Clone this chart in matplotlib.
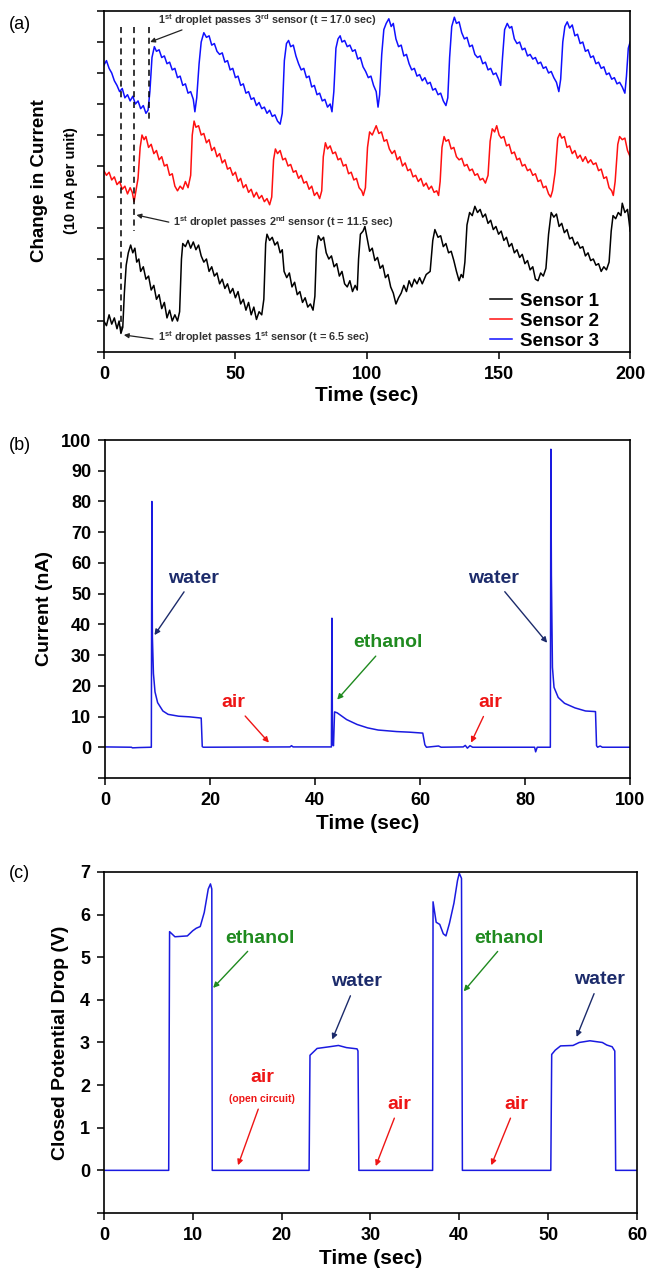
import numpy as np
import matplotlib
matplotlib.use("Agg")
import matplotlib.pyplot as plt

plt.rcParams['font.family'] = ['Liberation Sans', 'DejaVu Sans']
plt.rcParams['font.weight'] = 'bold'
plt.rcParams['mathtext.default'] = 'regular'

# ---- panel (a): change in current, three sensors (t sec, value in units of 10 nA)
sensor1 = [[0, 1.0], [1, 0.85], [2, 1.2], [3, 0.9], [4, 1.1], [5, 0.75], [5.8, 1.0], [6.5, 0.6], [7.2, 0.8],
           [7.8, 1.9], [8.5, 2.8], [9.3, 3.2], [10.2, 3.45], [11, 3.2], [11.8, 3.35], [12.5, 2.9], [13.3, 3.0],
           [14, 2.6], [15, 2.75], [16, 2.35], [17, 2.45], [18, 2.0], [19, 2.15], [20, 1.7], [21, 1.85], [22, 1.4],
           [23, 1.6], [24, 1.1], [25, 1.35], [26, 1.0], [27, 1.2], [28, 1.0], [28.8, 1.3], [29.5, 3.0], [30, 3.5],
           [31, 3.4], [32, 3.6], [33, 3.35], [34, 3.55], [35, 3.3], [36, 3.45], [37, 3.1], [38, 2.9], [39, 3.0],
           [40, 2.6], [41, 2.75], [42, 2.45], [43, 2.55], [44, 2.2], [45, 2.35], [46, 2.05], [47, 2.2], [48, 1.9],
           [49, 2.05], [50, 1.75], [51, 1.95], [52, 1.55], [53, 1.7], [54, 1.35], [55, 1.6], [56, 1.2], [57, 1.45],
           [58, 1.05], [59, 1.3], [60, 1.2], [60.8, 1.7], [61.5, 3.5], [62, 3.8], [63, 3.6], [64, 3.7], [65, 3.45],
           [66, 3.55], [67, 3.2], [67.8, 3.3], [68.5, 2.6], [69.5, 2.4], [70.5, 2.55], [71.5, 2.1], [72.5, 2.25],
           [73.5, 1.85], [74.5, 1.95], [75.5, 1.6], [76.5, 1.75], [77.5, 1.45], [78.5, 1.55], [79.5, 1.35],
           [80.2, 1.8], [80.8, 3.3], [81.5, 3.75], [82.5, 3.6], [83.5, 3.7], [84.5, 3.2], [85.5, 3.0], [86.5, 3.1],
           [87.5, 2.75], [88.5, 2.85], [89.5, 2.45], [90.5, 2.6], [91.5, 2.2], [92.5, 2.1], [93.5, 2.3],
           [94.5, 1.95], [95.5, 2.15], [96.3, 2.0], [96.8, 3.0], [97.5, 3.8], [98.5, 3.9], [99.2, 4.05], [100, 3.7],
           [101, 3.25], [102, 3.35], [103, 2.95], [104, 3.05], [105, 2.7], [106, 2.8], [107, 2.4], [108, 2.5],
           [109, 2.1], [110, 1.9], [111, 1.55], [112, 1.75], [113, 1.9], [114, 2.15], [115, 1.95], [116, 2.3],
           [117, 2.1], [118, 2.35], [119, 2.2], [120, 2.4], [121, 2.2], [122.5, 2.5], [124, 2.6], [125, 3.6],
           [125.8, 3.95], [127, 3.7], [128, 3.75], [129, 3.4], [130, 3.5], [131, 3.2], [132, 3.25], [133, 2.95],
           [134, 2.6], [135, 2.3], [135.8, 2.5], [136.5, 2.4], [137.2, 2.9], [138, 4.1], [139, 4.5], [140, 4.4],
           [141, 4.7], [142, 4.5], [143, 4.6], [144, 4.35], [145, 4.45], [146, 4.15], [147, 4.25], [148, 3.95],
           [149, 4.05], [150, 3.8], [151, 3.9], [152, 3.6], [153, 3.7], [154, 3.4], [155, 3.5], [156, 3.2],
           [157, 3.3], [158, 3.05], [159, 3.15], [160, 2.85], [161, 2.95], [162, 2.65], [163, 2.75], [164, 2.35],
           [165, 2.3], [166, 2.55], [167, 2.45], [168, 2.7], [169, 3.8], [170, 4.5], [171, 4.35], [172, 4.45],
           [173, 4.05], [174, 4.15], [175, 3.85], [176, 3.95], [177, 3.65], [178, 3.7], [179, 3.45], [180, 3.55],
           [181, 3.35], [182, 3.4], [183, 3.1], [184, 3.2], [185, 2.95], [186, 3.0], [187, 2.8], [188, 2.85],
           [189, 2.6], [190, 2.75], [191, 2.65], [192, 2.9], [192.8, 3.9], [193.5, 4.4], [194.5, 4.3], [195.5, 4.5],
           [196.5, 4.4], [197, 4.8], [198, 4.5], [199, 4.6], [199.6, 4.2], [200, 3.9]]

sensor2 = [[0, 5.85], [1, 5.7], [2, 5.8], [3, 5.55], [4, 5.65], [5, 5.4], [6, 5.5], [7, 5.25], [8, 5.35], [9, 5.1],
           [10, 5.3], [10.8, 5.15], [11.5, 4.85], [12.2, 5.2], [13, 5.6], [13.8, 6.6], [14.5, 7.0], [15.3, 6.85],
           [16, 6.95], [17, 6.6], [18, 6.7], [19, 6.4], [20, 6.5], [21, 6.2], [22, 6.3], [23, 6.0], [24, 6.05],
           [25, 5.7], [26, 5.75], [27, 5.35], [28, 5.2], [29, 5.35], [30, 5.25], [31, 5.5], [32, 5.3], [33, 5.7],
           [33.6, 7.0], [34.3, 7.45], [35, 7.25], [36, 7.3], [37, 7.0], [38, 7.05], [39, 6.75], [40, 6.85],
           [41, 6.5], [42, 6.6], [43, 6.3], [44, 6.4], [45, 6.1], [46, 6.2], [47, 5.9], [48, 5.95], [49, 5.7],
           [50, 5.8], [51, 5.5], [52, 5.6], [53, 5.3], [54, 5.4], [55, 5.15], [56, 5.25], [57, 5.0], [58, 5.15],
           [59, 4.95], [60, 5.05], [61, 4.85], [62, 4.95], [63, 4.75], [63.8, 5.0], [64.5, 6.2], [65.2, 6.55],
           [66, 6.4], [67, 6.5], [68, 6.2], [69, 6.25], [70, 6.0], [71, 6.05], [72, 5.8], [73, 5.85], [74, 5.6],
           [75, 5.7], [76, 5.45], [77, 5.5], [78, 5.25], [79, 5.35], [80, 5.05], [81, 5.15], [82, 4.95],
           [82.8, 5.2], [83.4, 6.3], [84.2, 6.75], [85, 6.55], [86, 6.65], [87, 6.4], [88, 6.45], [89, 6.2],
           [90, 6.25], [91, 6.0], [92, 6.05], [93, 5.75], [94, 5.8], [95, 5.55], [96, 5.6], [97, 5.3], [98, 5.2],
           [98.6, 5.05], [99.4, 5.3], [100.2, 6.6], [101, 7.1], [102, 7.0], [103.5, 7.3], [104.5, 7.05],
           [105.5, 7.1], [106.5, 6.8], [107.5, 6.85], [108.5, 6.55], [109.5, 6.4], [110.5, 6.5], [111.5, 6.2],
           [112.5, 6.3], [113.5, 6.0], [114.5, 6.1], [115.5, 5.85], [116.5, 5.9], [117.5, 5.65], [118.5, 5.7],
           [119.5, 5.5], [120.5, 5.6], [121.5, 5.35], [122.5, 5.45], [123.5, 5.25], [124.5, 5.35], [125.5, 5.15],
           [126.5, 5.2], [127.2, 5.05], [127.8, 5.5], [128.5, 6.6], [129.3, 6.95], [130, 6.8], [131, 6.85],
           [132, 6.55], [133, 6.6], [134, 6.3], [135, 6.2], [136, 6.25], [137, 6.0], [138, 6.05], [139, 5.85],
           [140, 5.9], [141, 5.7], [142, 5.75], [143, 5.55], [144, 5.6], [145, 5.45], [146, 5.7], [146.8, 6.8],
           [147.6, 7.2], [148.5, 7.1], [149.3, 7.3], [150.2, 7.0], [151, 6.9], [152, 6.95], [153, 6.65],
           [154, 6.7], [155, 6.4], [156, 6.45], [157, 6.2], [158, 6.25], [159, 6.0], [160, 6.05], [161, 5.85],
           [162, 5.9], [163, 5.7], [164, 5.75], [165, 5.5], [166, 5.55], [167, 5.3], [168, 5.35], [169, 5.1],
           [169.8, 5.0], [170.5, 5.2], [171.5, 5.8], [172.5, 6.9], [173.3, 7.05], [174, 6.9], [175, 6.95],
           [176, 6.6], [177, 6.65], [178, 6.4], [179, 6.5], [180, 6.25], [181, 6.35], [182, 6.15], [183, 6.3],
           [184, 6.1], [185, 6.2], [186, 6.05], [187, 6.1], [188, 5.85], [189, 5.9], [190, 5.6], [191, 5.65],
           [192, 5.3], [193, 5.2], [193.6, 5.05], [194.3, 5.5], [195.3, 6.7], [196, 6.95], [197, 6.85],
           [198, 6.9], [199, 6.5], [200, 6.3]]

sensor3 = [[0, 9.25], [1, 9.4], [2, 9.15], [3, 9.0], [4, 8.75], [5, 8.6], [6, 8.4], [7, 8.5], [8, 8.2], [9, 8.3],
           [10, 8.1], [11, 8.25], [12, 8.0], [13, 8.1], [14, 7.85], [15, 7.95], [16, 7.7], [16.8, 7.8], [17.5, 8.4],
           [18.3, 9.5], [19.2, 9.85], [20, 9.7], [21, 9.75], [22, 9.5], [23, 9.55], [24, 9.3], [25, 9.35],
           [26, 9.1], [27, 9.15], [28, 8.85], [29, 8.9], [30, 8.6], [31, 8.65], [32, 8.35], [33, 8.4], [34, 8.15],
           [34.6, 7.75], [35.3, 8.2], [36.2, 9.3], [37, 10.0], [38, 10.3], [39, 10.15], [40, 10.2], [41, 9.9],
           [42, 9.95], [43, 9.7], [44, 9.6], [45, 9.65], [46, 9.35], [47, 9.4], [48, 9.1], [49, 9.15], [50, 8.85],
           [51, 8.9], [52, 8.6], [53, 8.65], [54, 8.35], [55, 8.4], [56, 8.15], [57, 8.2], [58, 7.95], [59, 8.05],
           [60, 7.85], [61, 7.9], [62, 7.7], [63, 7.8], [64, 7.6], [65, 7.65], [66, 7.45], [67, 7.35], [67.8, 7.7],
           [68.6, 9.4], [69.4, 9.95], [70.2, 10.05], [71, 9.85], [72, 9.9], [73, 9.55], [74, 9.3], [75, 9.1],
           [76, 9.15], [77, 8.85], [78, 8.9], [79, 8.55], [80, 8.6], [81, 8.3], [82, 8.35], [83, 8.1], [84, 8.15],
           [85, 7.9], [86, 8.0], [86.7, 7.75], [87.4, 8.4], [88.2, 9.8], [89, 10.1], [89.8, 10.2], [90.5, 10.0],
           [91.5, 10.05], [92.5, 9.85], [93.5, 9.9], [94.5, 9.7], [95.5, 9.75], [96.5, 9.45], [97.5, 9.5],
           [98.5, 9.2], [99.5, 9.05], [100.5, 8.85], [101.5, 8.9], [102.5, 8.6], [103.5, 8.4], [104.2, 7.9],
           [104.8, 8.3], [105.6, 9.6], [106.4, 10.4], [107.3, 10.6], [108.3, 10.75], [109.2, 10.5], [110, 10.6],
           [111, 10.1], [112, 9.85], [113, 9.9], [114, 9.55], [115, 9.6], [116, 9.3], [117, 9.1], [118, 9.15],
           [119, 8.9], [120, 8.95], [121, 8.75], [122, 8.85], [123, 8.65], [124, 8.7], [125, 8.45], [126, 8.5],
           [127, 8.3], [128, 8.35], [129, 8.1], [130, 7.95], [130.7, 8.2], [131.4, 9.5], [132.2, 10.5],
           [133.2, 10.8], [134, 10.6], [135, 10.65], [136, 10.3], [137, 10.1], [138, 10.15], [139, 9.85],
           [140, 9.9], [141, 9.6], [142, 9.5], [143, 9.55], [144, 9.3], [145, 9.35], [146, 9.1], [147, 9.15],
           [148, 8.95], [149, 9.0], [150, 8.8], [150.8, 8.6], [151.5, 9.5], [152.3, 10.4], [153.3, 10.6],
           [154.2, 10.45], [155, 10.5], [156, 10.1], [157, 9.95], [158, 10.0], [159, 9.75], [160, 9.8],
           [161, 9.55], [162, 9.6], [163, 9.45], [164, 9.5], [165, 9.3], [166, 9.35], [167, 9.15], [168, 9.2],
           [169, 9.0], [170, 9.05], [171, 8.85], [172, 8.7], [172.9, 8.4], [173.6, 8.8], [174.4, 10.0],
           [175.2, 10.5], [176.1, 10.65], [177, 10.45], [178, 10.55], [179, 10.2], [180, 10.25], [181, 9.95],
           [182, 10.0], [183, 9.7], [184, 9.75], [185, 9.5], [186, 9.55], [187, 9.3], [188, 9.35], [189, 9.15],
           [190, 9.2], [191, 8.95], [192, 9.0], [193, 8.8], [194, 8.85], [195, 8.65], [196, 8.7], [197, 8.55],
           [198, 8.35], [198.6, 8.9], [199.3, 9.8], [200, 10.0]]

droplet_t = [6.5, 11.5, 17.0]
droplet_bottom = [0.5, 3.9, 7.5]

# ---- panel (b): current (nA) vs time (sec)
current = [[0, 0.1], [5, 0.0], [5.2, -0.2], [6.5, -0.1], [8.8, 0.0], [8.9, 80], [9.0, 36], [9.2, 24], [9.5, 18],
           [10.0, 14.5], [11.0, 11.8], [12.0, 10.7], [14.0, 10.1], [16.0, 9.9], [18.3, 9.5], [18.5, 0.2],
           [18.7, 0.0], [35.2, 0.1], [35.5, 0.5], [35.8, 0.1], [43.1, 0.1], [43.2, 42], [43.3, 1.0], [43.5, 0.5],
           [43.7, 11.5], [44.2, 11.2], [46.0, 9.0], [48.0, 7.4], [50.0, 6.3], [52.0, 5.6], [55.5, 5.1],
           [58.0, 4.9], [60.5, 4.6], [60.9, 0.8], [61.2, 0.0], [63.5, 0.4], [64.0, 0.0], [68.2, 0.1], [68.6, 0.6],
           [69.0, -0.3], [69.5, 0.5], [70.0, 0.0], [81.8, 0.0], [82.0, -1.5], [82.3, 0.0], [84.8, 0.0],
           [84.9, 97], [85.0, 56], [85.2, 26], [85.5, 19.5], [86.3, 16.2], [87.5, 14.3], [89.5, 12.8],
           [91.5, 11.8], [93.4, 11.6], [93.6, 0.5], [93.8, 0.0], [94.3, 0.4], [94.7, 0.0], [100, 0.0]]

# ---- panel (c): closed potential drop (V) vs time (sec)
voltage = [[0, 0], [7.3, 0], [7.4, 5.6], [8.0, 5.48], [9.4, 5.5], [10.0, 5.62], [10.4, 5.68], [10.85, 5.72],
           [11.3, 6.05], [11.75, 6.6], [12.0, 6.72], [12.15, 6.6], [12.2, 0], [23.1, 0], [23.2, 2.7],
           [23.5, 2.76], [24.0, 2.86], [25.4, 2.9], [26.4, 2.93], [27.3, 2.88], [28.5, 2.85], [28.6, 2.8],
           [28.7, 0], [37.0, 0], [37.05, 6.3], [37.4, 5.82], [37.8, 5.77], [38.2, 5.55], [38.5, 5.5],
           [38.9, 5.8], [39.4, 6.27], [39.8, 6.8], [40.0, 6.97], [40.25, 6.85], [40.35, 0], [50.3, 0],
           [50.4, 2.72], [50.8, 2.82], [51.4, 2.92], [52.8, 2.93], [53.5, 3.0], [54.7, 3.04], [56.1, 3.0],
           [56.6, 2.94], [57.2, 2.9], [57.5, 2.8], [57.6, 0], [60, 0]]

BLUE = '#1a1ae0'
NAVY = '#1c2b6b'
GREEN = '#1f8a1f'
RED = '#ee1515'

fig = plt.figure(figsize=(6.53, 12.81), dpi=100)

def style(ax):
    for sp in ax.spines.values():
        sp.set_linewidth(1.2)
    ax.tick_params(direction='out', length=5, width=1.1, labelsize=13, pad=5)
    for lab in ax.get_xticklabels() + ax.get_yticklabels():
        lab.set_fontweight('bold')

# ---------------- (a)
ax1 = fig.add_axes([0.159, 0.7252, 0.806, 0.2662])
s1 = np.array(sensor1).T
s2 = np.array(sensor2).T
s3 = np.array(sensor3).T
ax1.plot(s1[0], s1[1], color='black', lw=1.1, label='Sensor 1')
ax1.plot(s2[0], s2[1], color='#ff1010', lw=1.1, label='Sensor 2')
ax1.plot(s3[0], s3[1], color='#1010ff', lw=1.1, label='Sensor 3')
for t, yb in zip(droplet_t, droplet_bottom):
    ax1.plot([t, t], [10.5, yb], color='black', lw=1.1, ls=(0, (4, 3)))
ax1.set_xlim(0, 200)
ax1.set_ylim(0, 11)
ax1.set_xticks([0, 50, 100, 150, 200])
ax1.set_yticks(range(0, 12))
ax1.set_yticklabels([])
style(ax1)
ax1.set_xlabel('Time (sec)', fontsize=15, fontweight='bold', labelpad=2)
fig.text(0.061, 0.859, 'Change in Current', rotation=90, fontsize=13.5, fontweight='bold',
         ha='center', va='center')
fig.text(0.108, 0.859, '(10 nA per unit)', rotation=90, fontsize=10.5, fontweight='bold',
         ha='center', va='center')
leg = ax1.legend(loc='lower right', bbox_to_anchor=(0.955, -0.015), frameon=False,
                 prop={'weight': 'bold', 'size': 13.5},
                 handlelength=1.2, handletextpad=0.4, labelspacing=0.15, borderaxespad=0.0)
ann_kw = dict(fontsize=7.8, color='#333333', fontweight='bold', va='center', ha='left')
arr_kw = dict(arrowstyle='-|>', color='#222222', lw=0.9, mutation_scale=7, shrinkA=0, shrinkB=0)
ax1.text(20.5, 10.72, r'1$^{st}$ droplet passes 3$^{rd}$ sensor (t = 17.0 sec)', **ann_kw)
ax1.annotate('', xy=(17.6, 10.0), xytext=(29.7, 10.39), arrowprops=arr_kw)
ax1.text(26.2, 4.2, r'1$^{st}$ droplet passes 2$^{nd}$ sensor (t = 11.5 sec)', **ann_kw)
ax1.annotate('', xy=(12.4, 4.42), xytext=(24.7, 4.19), arrowprops=arr_kw)
ax1.text(20.5, 0.48, r'1$^{st}$ droplet passes 1$^{st}$ sensor (t = 6.5 sec)', **ann_kw)
ax1.annotate('', xy=(7.6, 0.55), xytext=(18.7, 0.42), arrowprops=arr_kw)
fig.text(0.03, 0.981, '(a)', fontsize=13, fontweight='normal', ha='center', va='center')

# ---------------- (b)
ax2 = fig.add_axes([0.161, 0.3927, 0.804, 0.2638])
cb = np.array(current).T
ax2.plot(cb[0], cb[1], color=BLUE, lw=1.1)
ax2.set_xlim(0, 100)
ax2.set_ylim(-10, 100)
ax2.set_xticks(range(0, 101, 20))
ax2.set_yticks(range(-10, 101, 10))
ax2.set_yticklabels([''] + [str(v) for v in range(0, 101, 10)])
style(ax2)
ax2.set_xlabel('Time (sec)', fontsize=15, fontweight='bold', labelpad=4)
ax2.set_ylabel('Current (nA)', fontsize=14, fontweight='bold', labelpad=6)

def label(ax, txt, color, xy, xytext, size=14):
    ax.annotate(txt, xy=xy, xytext=xytext, color=color, fontsize=size, fontweight='bold',
                ha='center', va='center',
                arrowprops=dict(arrowstyle='-|>', color=color, lw=1.0, mutation_scale=8,
                                shrinkA=2, shrinkB=0))

label(ax2, 'water', NAVY, (9.4, 36.5), (16.8, 55))
label(ax2, 'ethanol', GREEN, (44.2, 15.5), (53.8, 34))
label(ax2, 'air', RED, (31.2, 1.5), (24.4, 14.5))
label(ax2, 'air', RED, (69.7, 1.5), (73.3, 14.5))
label(ax2, 'water', NAVY, (84.2, 34), (74.0, 55))
fig.text(0.03, 0.652, '(b)', fontsize=13, fontweight='normal', ha='center', va='center')

# ---------------- (c)
ax3 = fig.add_axes([0.159, 0.0531, 0.8165, 0.2662])
vc = np.array(voltage).T
ax3.plot(vc[0], vc[1], color=BLUE, lw=1.1)
ax3.set_xlim(0, 60)
ax3.set_ylim(-1, 7)
ax3.set_xticks(range(0, 61, 10))
ax3.set_yticks(range(-1, 8))
ax3.set_yticklabels([''] + [str(v) for v in range(0, 8)])
style(ax3)
ax3.set_xlabel('Time (sec)', fontsize=15, fontweight='bold', labelpad=4)
ax3.set_ylabel('Closed Potential Drop (V)', fontsize=14, fontweight='bold', labelpad=8)
label(ax3, 'ethanol', GREEN, (12.3, 4.28), (17.6, 5.45))
label(ax3, 'ethanol', GREEN, (40.5, 4.2), (45.6, 5.45))
label(ax3, 'water', NAVY, (25.7, 3.07), (28.4, 4.42))
label(ax3, 'water', NAVY, (53.2, 3.13), (55.8, 4.47))
ax3.text(17.8, 2.18, 'air', color=RED, fontsize=14, fontweight='bold', ha='center', va='center')
ax3.annotate('(open circuit)', xy=(15.1, 0.12), xytext=(17.8, 1.68), color=RED, fontsize=7.5,
             fontweight='bold', ha='center', va='center',
             arrowprops=dict(arrowstyle='-|>', color=RED, lw=1.0, mutation_scale=8, shrinkA=2, shrinkB=0))
label(ax3, 'air', RED, (30.6, 0.1), (33.3, 1.55))
label(ax3, 'air', RED, (43.6, 0.12), (46.4, 1.55))
fig.text(0.03, 0.318, '(c)', fontsize=13, fontweight='normal', ha='center', va='center')

fig.savefig('out.png', dpi=100)
